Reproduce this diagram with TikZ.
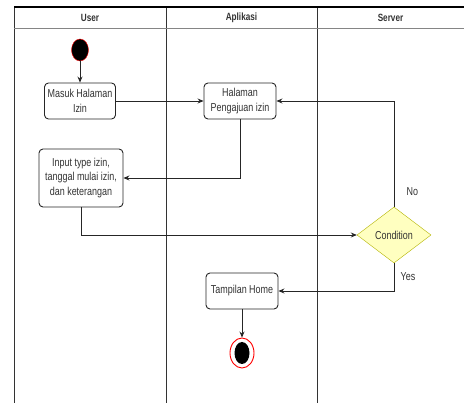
\documentclass[tikz,border=0pt]{standalone}
\usepackage{fontspec}
\setmainfont[FakeStretch=0.78]{Liberation Sans}
\usetikzlibrary{shapes.geometric,arrows.meta}
\definecolor{laneline}{HTML}{333333}
\definecolor{condfill}{HTML}{FFFFC0}
\definecolor{condline}{HTML}{B3B300}
\tikzset{
  activity/.style={draw=black!85, line width=0.9pt, rounded corners=4pt, align=center, minimum height=36pt, inner sep=2pt, text=black!80},
  flow/.style={draw=black!85, line width=0.8pt, -{Stealth[length=6pt,width=5pt]}},
  lanehead/.style={font=\bfseries\fontsize{10.5}{12}\selectfont, text=black!80}
}
\begin{document}
\begin{tikzpicture}[x=1pt,y=-1pt,font=\fontsize{11.5}{14.5}\selectfont]
  \useasboundingbox (0,0) rectangle (464,403);
  % swimlanes
  \draw[laneline, line width=0.8pt] (14,403) -- (14,7) (166,7) -- (166,403) (317,7) -- (317,403);
  \draw[laneline!60] (14,28) -- (464,28);
  \draw[line width=1.5pt] (14,7) -- (464,7);
  \node[lanehead] (user) at (90,18) {User};
  \node[lanehead] (aplikasi) at (241.5,18) {Aplikasi};
  \node[lanehead] (server) at (390.5,18) {Server};

  \node[ellipse, draw=red, fill=black, minimum width=17pt, minimum height=22pt, inner sep=0] (start) at (80,50) {};
  \node[activity, minimum width=71pt] (masuk) at (80,101) {Masuk Halaman\\Izin};
  \node[activity, minimum width=72pt] (halaman) at (240,101) {Halaman\\Pengajuan izin};
  \node[activity, minimum width=84pt, minimum height=58pt] (input) at (81,178) {Input type izin,\\tanggal mulai izin,\\dan keterangan};
  \node[diamond, draw=condline, fill=condfill, minimum width=74pt, minimum height=56pt, inner sep=0, text=black!80] (cond) at (394,235) {Condition};
  \node[activity, minimum width=72pt] (tampil) at (242,291) {Tampilan Home};
  \node[ellipse, draw=red, line width=0.9pt, minimum width=24pt, minimum height=30pt, inner sep=0] (end) at (242,353) {};
  \fill (end.center) ellipse (7.5 and 11);

  \draw[flow] (start) -- (masuk);
  \draw[flow] (masuk) -- (halaman);
  \draw[flow] (halaman) |- (input);
  \draw[flow] (input) |- (cond);
  \draw[flow] (cond) |- node[pos=0.07, right=9pt, text=black!80] {No} (halaman);
  \draw[flow] (cond) |- node[pos=0.25, right=3pt, text=black!80] {Yes} (tampil);
  \draw[flow] (tampil) -- (end);
\end{tikzpicture}
\end{document}
